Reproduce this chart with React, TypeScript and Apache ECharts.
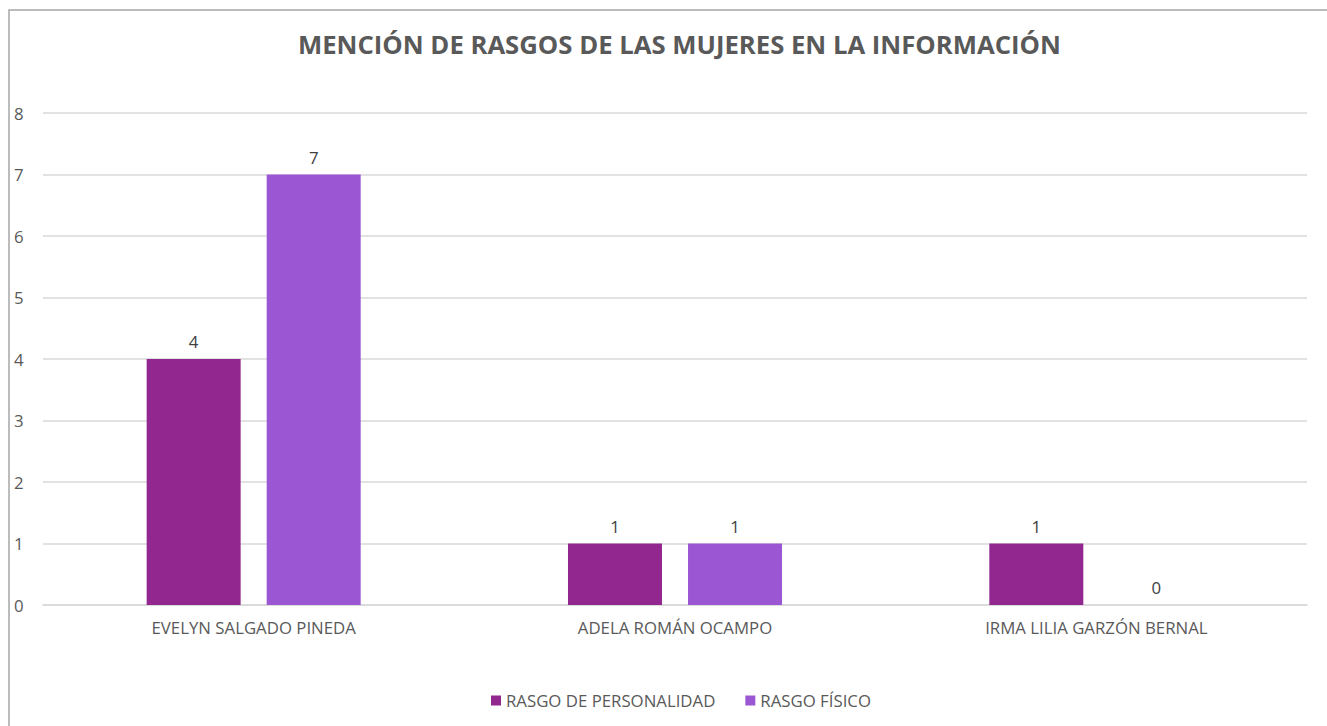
import React, { useEffect, useRef } from "react";
import * as echarts from "echarts";

const categories = ["EVELYN SALGADO PINEDA", "ADELA ROMÁN OCAMPO", "IRMA LILIA GARZÓN BERNAL"];
const personalidad = [4, 1, 1];
const fisico = [7, 1, 0];
const seriesNames = ["RASGO DE PERSONALIDAD", "RASGO FÍSICO"];
const titleText = "MENCIÓN DE RASGOS DE LAS MUJERES EN LA INFORMACIÓN";

const FONT = "'Open Sans', 'Noto Sans', sans-serif";
const FS = 16.8;

export default function App() {
  const ref = useRef<HTMLDivElement>(null);
  useEffect(() => {
    if (!ref.current) return;
    const chart = echarts.init(ref.current, undefined, { renderer: "svg" });
    const labelStyle = { show: true, position: "top", color: "#404040", fontSize: FS, fontFamily: FONT, distance: 9 };
    chart.setOption({
      animation: false,
      backgroundColor: "#ffffff",
      title: {
        text: titleText,
        left: 293,
        top: 26,
        textStyle: { color: "#595959", fontSize: 25.7, fontWeight: "bold", fontFamily: FONT },
      },
      graphic: [
        {
          type: "polyline",
          shape: { points: [[9, 740], [9, 10], [1340, 10]] },
          style: { stroke: "#a6a6a6", lineWidth: 1.5, fill: "none" },
          silent: true,
        },
      ],
      legend: {
        bottom: 12,
        left: 486,
        itemWidth: 10,
        itemHeight: 10,
        itemGap: 30,
        icon: "rect",
        textStyle: { color: "#595959", fontSize: FS, fontFamily: FONT },
        data: seriesNames,
      },
      grid: { left: 43, right: 20, top: 113, bottom: 121 },
      xAxis: {
        type: "category",
        data: categories,
        axisLine: { lineStyle: { color: "#d9d9d9", width: 1.5 } },
        axisTick: { show: false },
        axisLabel: { color: "#595959", fontSize: FS, fontFamily: FONT, margin: 14 },
      },
      yAxis: {
        type: "value",
        min: 0,
        max: 8,
        interval: 1,
        axisLine: { show: false },
        axisTick: { show: false },
        splitLine: { lineStyle: { color: "#d9d9d9", width: 1.5 } },
        axisLabel: { color: "#595959", fontSize: FS, fontFamily: FONT, margin: 0, align: "left", padding: [0, 0, 0, -29] },
      },
      series: [
        {
          name: seriesNames[0],
          type: "bar",
          data: personalidad,
          barWidth: 94,
          barGap: "27.7%",
          itemStyle: { color: "#92278F" },
          label: labelStyle,
        },
        {
          name: seriesNames[1],
          type: "bar",
          data: fisico,
          barWidth: 94,
          itemStyle: { color: "#9B57D3" },
          label: labelStyle,
        },
      ],
    });
    return () => chart.dispose();
  }, []);
  return (
    <div
      ref={ref}
      style={{ position: "absolute", left: 0, top: 0, width: 1327, height: 726 }}
    />
  );
}
